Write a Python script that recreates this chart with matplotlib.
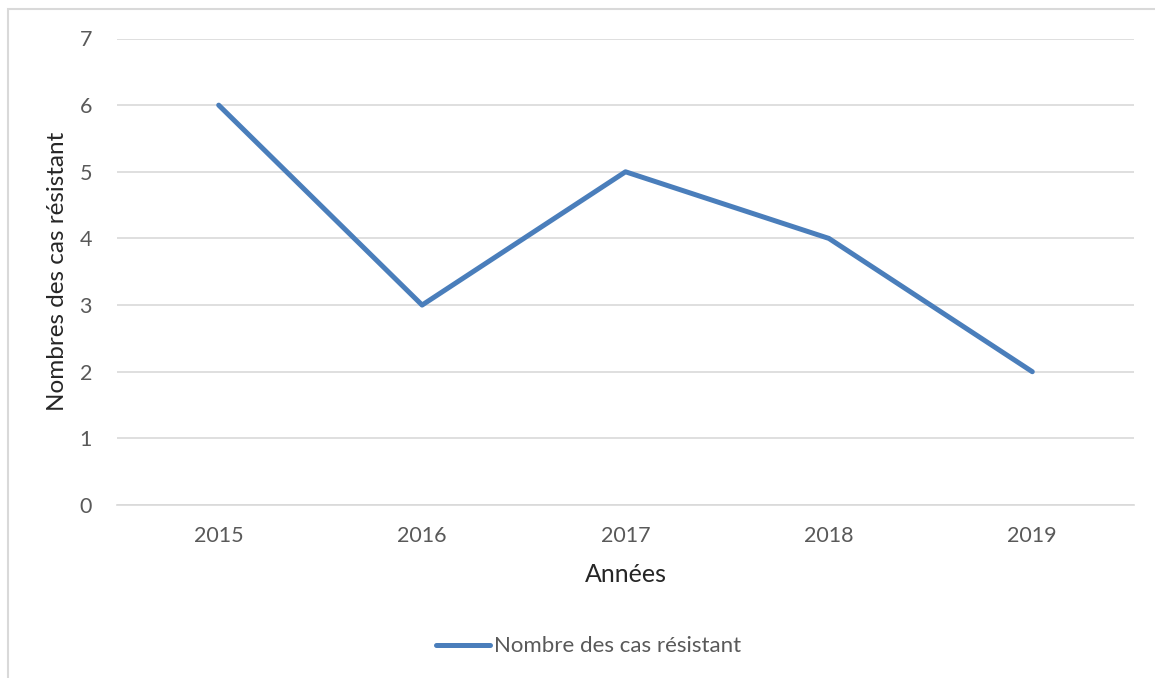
import matplotlib
matplotlib.use("Agg")
import matplotlib.pyplot as plt
from matplotlib.patches import Rectangle
from matplotlib.lines import Line2D

years = ["2015", "2016", "2017", "2018", "2019"]
cases = [6, 3, 5, 4, 2]
series_name = "Nombre des cas résistant"
y_ticks = [0, 1, 2, 3, 4, 5, 6, 7]

plt.rcParams['font.family'] = ['Lato', 'DejaVu Sans']

W, H = 1155, 678
fig = plt.figure(figsize=(W / 100, H / 100), dpi=100)
fig.patch.set_facecolor("white")

# chart border (only left and top visible)
fig.add_artist(Rectangle((7.5 / W, -0.1), 1.2, (H - 9.5) / H + 0.1,
                         transform=fig.transFigure, fill=False,
                         edgecolor="#d9d9d9", linewidth=1.5))

left, right = 117 / W, 1134 / W
bottom, top = (H - 505) / H, (H - 38.5) / H
ax = fig.add_axes([left, bottom, right - left, top - bottom])

x = list(range(len(years)))
line_color = "#4a7ebb"
ax.plot(x, cases, color=line_color, linewidth=3.6, solid_capstyle="round",
        solid_joinstyle="round", zorder=3)

ax.set_xlim(-0.5, len(years) - 0.5)
ax.set_ylim(0, 7)
ax.set_yticks(y_ticks)
ax.set_yticklabels([str(v) for v in y_ticks])
ax.set_xticks(x)
ax.set_xticklabels(years)
ax.grid(axis="y", color="#d9d9d9", linewidth=1.2)
ax.set_axisbelow(True)
for s in ["top", "right", "left"]:
    ax.spines[s].set_visible(False)
ax.spines["bottom"].set_color("#d9d9d9")
ax.spines["bottom"].set_linewidth(1.2)
ax.tick_params(axis="both", length=0, labelsize=15.5, colors="#595959")
ax.tick_params(axis="y", pad=18)
ax.tick_params(axis="x", pad=15)

ax.set_xlabel("Années", fontsize=18, color="#262626", labelpad=12)
ax.set_ylabel("Nombres des cas résistant", fontsize=17.5, color="#262626", labelpad=8)

handle = Line2D([0], [0], color=line_color, linewidth=3.6, solid_capstyle="round")
leg = fig.legend([handle], [series_name], loc="center", bbox_to_anchor=(588.5 / W, (H - 646.5) / H),
                 frameon=False, fontsize=16, handlelength=2.45, handletextpad=0.15,
                 labelcolor="#595959")

fig.savefig("out.png", dpi=100, facecolor="white")
